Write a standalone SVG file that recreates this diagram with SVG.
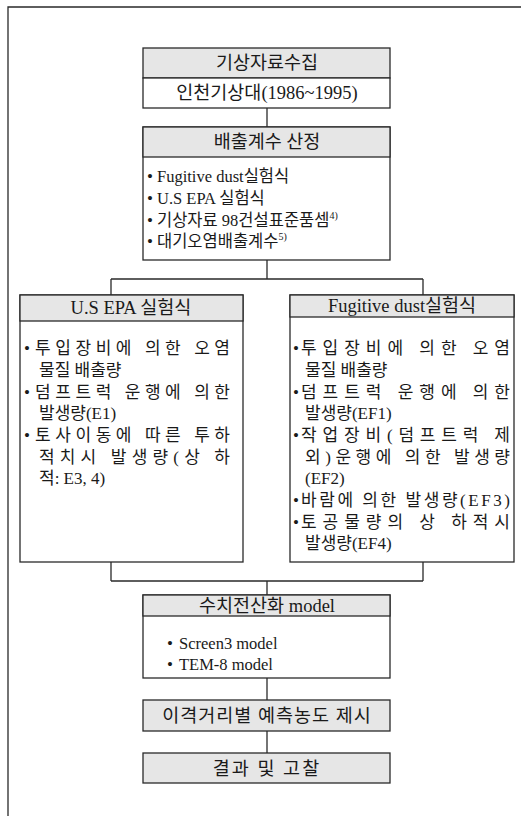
<svg xmlns="http://www.w3.org/2000/svg" width="521" height="816" viewBox="0 0 521 816">
<style>
.box{fill:#ffffff;stroke:#2a2a2a;stroke-width:1.3}
.hd{fill:#e6e6e6;stroke:#2a2a2a;stroke-width:1.3}
.ln{fill:none;stroke:#2a2a2a;stroke-width:1.3}
text{font-family:'Liberation Serif','Noto Sans CJK KR',serif;fill:#1a1a1a}
.h{font-size:18.5px;text-anchor:middle}
.b{font-size:17px}
.s{font-size:16.5px}
.dot{font-size:17px}
.sup{font-size:10px}
</style>
<rect x="0" y="0" width="521" height="816" fill="#ffffff"/>
<path class="ln" d="M8,816 V7 H521" stroke-width="1.6"/>

<g id="connectors">
<path class="ln" d="M267,108 V127"/>
<path class="ln" d="M267,260 V279 M111,279 H423 M111,279 V295 M423,279 V295"/>
<path class="ln" d="M111,562 V581 M423,562 V581 M111,581 H423 M267,581 V595"/>
<path class="ln" d="M267,678 V700"/>
<path class="ln" d="M267,731 V753"/>
</g>

<g id="n1">
<rect class="hd" x="143" y="48" width="247" height="30"/>
<rect class="box" x="143" y="78" width="247" height="30"/>
<text class="h" x="267" y="69">기상자료수집</text>
<text class="h" x="267" y="99">인천기상대(1986~1995)</text>
</g>

<g id="n2">
<rect class="box" x="143" y="127" width="247" height="133"/>
<rect class="hd" x="143" y="127" width="247" height="30"/>
<text class="h" x="267" y="148">배출계수 산정</text>
<text class="dot" x="147" y="182">•</text>
<text class="s" x="157" y="182">Fugitive dust실험식</text>
<text class="dot" x="147" y="204">•</text>
<text class="s" x="157" y="204">U.S EPA 실험식</text>
<text class="dot" x="147" y="226">•</text>
<text class="s" x="157" y="226">기상자료 98건설표준품셈<tspan class="sup" dy="-7">4)</tspan></text>
<text class="dot" x="147" y="247">•</text>
<text class="s" x="157" y="247">대기오염배출계수<tspan class="sup" dy="-7">5)</tspan></text>
</g>

<g id="n3">
<rect class="box" x="20" y="295" width="223" height="267"/>
<rect class="hd" x="20" y="295" width="223" height="26"/>
<text class="h" x="131" y="314">U.S EPA 실험식</text>
<text class="dot" x="24" y="354">•</text>
<text class="b" x="35" y="354" textLength="195" lengthAdjust="spacing">투입장비에 의한 오염</text>
<text class="b" x="39" y="376">물질 배출량</text>
<text class="dot" x="24" y="398">•</text>
<text class="b" x="35" y="398" textLength="195" lengthAdjust="spacing">덤프트럭 운행에 의한</text>
<text class="b" x="39" y="419">발생량(E1)</text>
<text class="dot" x="24" y="441">•</text>
<text class="b" x="35" y="441" textLength="195" lengthAdjust="spacing">토사이동에 따른 투하</text>
<text class="b" x="39" y="463" textLength="191" lengthAdjust="spacing">적치시 발생량(상 하</text>
<text class="b" x="39" y="484">적: E3, 4)</text>
</g>

<g id="n4">
<rect class="box" x="290" y="295" width="224" height="267"/>
<rect class="hd" x="290" y="295" width="224" height="22"/>
<text class="h" x="402" y="312">Fugitive dust실험식</text>
<text class="dot" x="293" y="354">•</text>
<text class="b" x="301" y="354" textLength="209" lengthAdjust="spacing">투입장비에 의한 오염</text>
<text class="b" x="305" y="376">물질 배출량</text>
<text class="dot" x="293" y="398">•</text>
<text class="b" x="301" y="398" textLength="209" lengthAdjust="spacing">덤프트럭 운행에 의한</text>
<text class="b" x="305" y="419">발생량(EF1)</text>
<text class="dot" x="293" y="441">•</text>
<text class="b" x="301" y="441" textLength="209" lengthAdjust="spacing">작업장비(덤프트럭 제</text>
<text class="b" x="305" y="463" textLength="205" lengthAdjust="spacing">외)운행에 의한 발생량</text>
<text class="b" x="305" y="484">(EF2)</text>
<text class="dot" x="293" y="506">•</text>
<text class="b" x="301" y="506" textLength="209" lengthAdjust="spacing">바람에 의한 발생량(EF3)</text>
<text class="dot" x="293" y="528">•</text>
<text class="b" x="301" y="528" textLength="209" lengthAdjust="spacing">토공물량의 상 하적시</text>
<text class="b" x="305" y="549">발생량(EF4)</text>
</g>

<g id="n5">
<rect class="box" x="143" y="595" width="247" height="83"/>
<rect class="hd" x="143" y="595" width="247" height="21"/>
<text class="h" x="267" y="612">수치전산화 model</text>
<text class="dot" x="167" y="649">•</text>
<text class="s" x="179" y="649">Screen3 model</text>
<text class="dot" x="167" y="670">•</text>
<text class="s" x="179" y="670">TEM-8 model</text>
</g>

<g id="n6">
<rect class="hd" x="143" y="700" width="247" height="31"/>
<text class="h" x="267" y="722" letter-spacing="1">이격거리별 예측농도 제시</text>
</g>

<g id="n7">
<rect class="hd" x="143" y="753" width="247" height="30"/>
<text class="h" x="267" y="775" letter-spacing="2">결과 및 고찰</text>
</g>
</svg>
